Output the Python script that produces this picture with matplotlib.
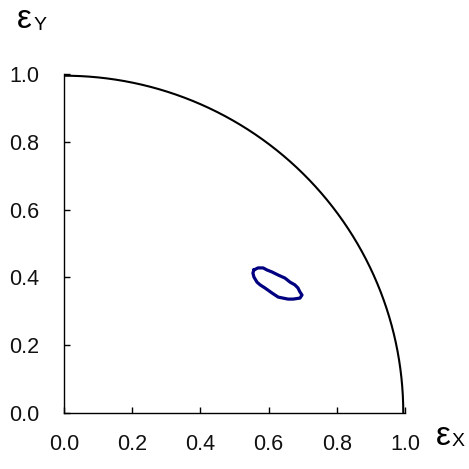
import numpy as np
import matplotlib
matplotlib.use("Agg")
import matplotlib.pyplot as plt

plt.rcParams['font.family'] = ['Liberation Sans', 'DejaVu Sans']

# Axis ticks
x_ticks = [0.0, 0.2, 0.4, 0.6, 0.8, 1.0]
y_ticks = [0.0, 0.2, 0.4, 0.6, 0.8, 1.0]
tick_labels = ["0.0", "0.2", "0.4", "0.6", "0.8", "1.0"]

# Unit-circle boundary radius
boundary_radius = 0.995

# Closed contour (x, y)
contour_x = [0.557, 0.569, 0.584, 0.595, 0.610, 0.628, 0.648, 0.663, 0.677,
             0.686, 0.692, 0.698, 0.692, 0.672, 0.657, 0.642, 0.628, 0.610,
             0.589, 0.575, 0.566, 0.557, 0.554, 0.557]
contour_y = [0.422, 0.428, 0.428, 0.422, 0.416, 0.407, 0.398, 0.386, 0.378,
             0.369, 0.357, 0.348, 0.339, 0.336, 0.336, 0.339, 0.342, 0.354,
             0.369, 0.378, 0.386, 0.401, 0.413, 0.422]

fig = plt.figure(figsize=(4.69, 4.69), dpi=100)
ax = fig.add_axes([0.1365, 0.1194, 0.727, 0.7228])

theta = np.linspace(0, np.pi / 2, 300)
ax.plot(boundary_radius * np.cos(theta), boundary_radius * np.sin(theta),
        color='black', lw=1.5, solid_capstyle='butt')
ax.plot(contour_x, contour_y, color='#000080', lw=2.3, solid_joinstyle='round')

ax.set_xlim(0, 1)
ax.set_ylim(0, 1)
ax.set_xticks(x_ticks)
ax.set_yticks(y_ticks)
ax.set_xticklabels(tick_labels, fontsize=15.5)
ax.set_yticklabels(tick_labels, fontsize=15.5)
for s in ['top', 'right']:
    ax.spines[s].set_visible(False)
for s in ['left', 'bottom']:
    ax.spines[s].set_linewidth(1.0)
    ax.spines[s].set_color('black')
ax.tick_params(direction='in', length=4, width=1,
               colors='black', labelcolor='#111111')
ax.tick_params(axis='y', pad=18)
ax.tick_params(axis='x', pad=15)

fig.text(17 / 469, 1 - 20 / 469, 'ε', fontsize=24, va='center', ha='left')
fig.text(34 / 469, 1 - 25 / 469, 'Y', fontsize=14, va='center', ha='left')
fig.text(436 / 469, 1 - 436 / 469, 'ε', fontsize=24, va='center', ha='left')
fig.text(452 / 469, 1 - 441 / 469, 'X', fontsize=14, va='center', ha='left')

fig.savefig('out.png', dpi=100)
